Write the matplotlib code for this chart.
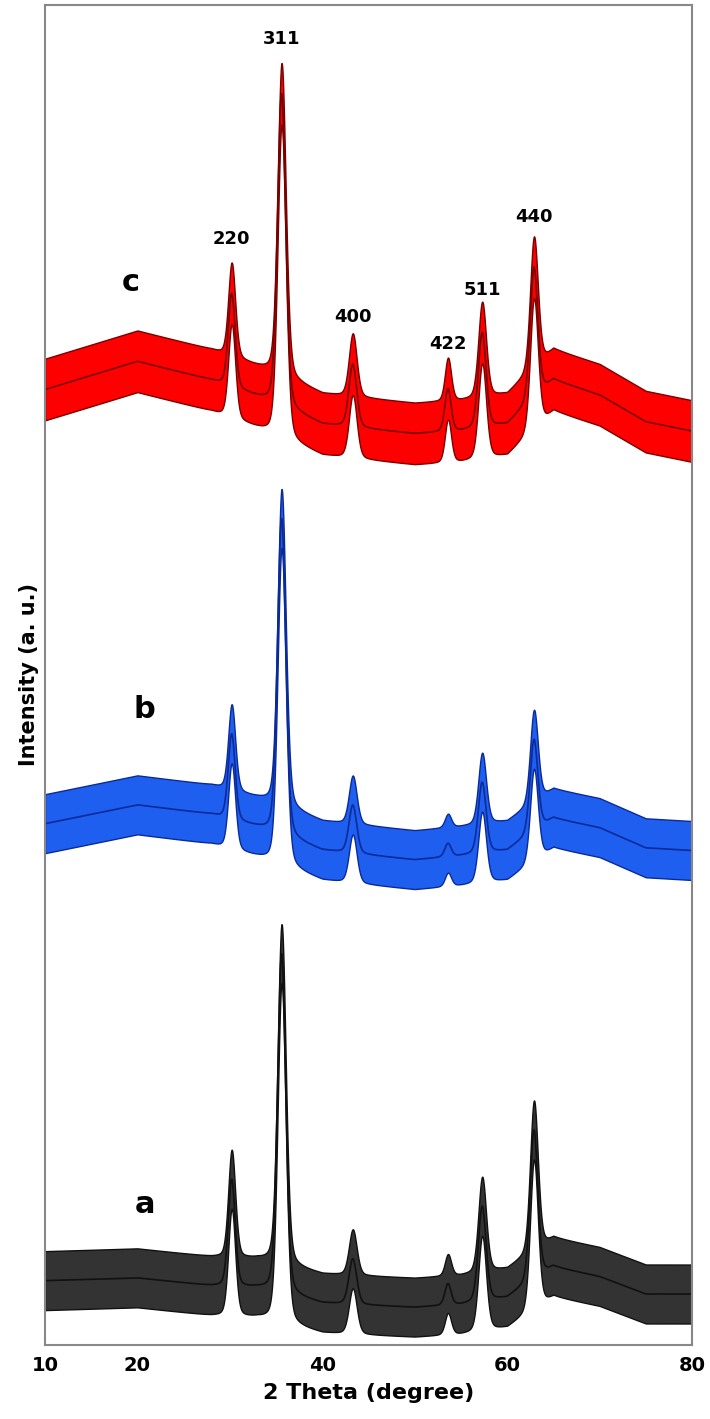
import numpy as np
import matplotlib
matplotlib.use("Agg")
import matplotlib.pyplot as plt

# Peak data (2theta, height above baseline band, FWHM)
peak_pos = [30.2, 35.6, 43.3, 53.6, 57.3, 62.9]
peak_hkl = ["220", "311", "400", "422", "511", "440"]
peak_width = [0.9, 1.05, 1.0, 0.8, 1.0, 1.0]
heights_a = [8.0, 25.4, 3.4, 1.6, 7.1, 11.2]
heights_b = [6.4, 23.7, 3.6, 1.0, 5.3, 6.9]
heights_c = [7.0, 23.4, 4.7, 3.2, 7.1, 9.8]

# Baseline anchor points (2theta, level) per trace
base_x = [10, 20, 28, 33, 40, 50, 55, 60, 65, 70, 75, 80]
base_a = [4.8, 5.0, 4.4, 4.2, 3.1, 2.8, 3.0, 3.5, 5.8, 5.1, 3.8, 3.8]
base_b = [38.9, 40.3, 39.6, 38.6, 36.9, 36.2, 36.5, 36.9, 39.3, 38.6, 37.1, 36.9]
base_c = [71.3, 73.4, 72.0, 70.7, 68.7, 68.0, 68.2, 68.7, 72.0, 70.9, 68.9, 68.2]
noise = [2.2, 2.2, 2.3]

labels = ["a", "b", "c"]
label_x = [20.8, 20.8, 19.3]
label_y = [10.5, 47.4, 79.3]
hkl_label_y = [82.5, 97.5, 76.7, 74.7, 78.7, 84.2]
colors = ["#333333", "#1f5ff0", "#ff0000"]
edge_colors = ["#111111", "#0a2a9a", "#7a0000"]

x = np.linspace(10, 80, 3000)

def profile(heights, base):
    y = np.interp(x, base_x, base)
    for p, h, w in zip(peak_pos, heights, peak_width):
        g = np.exp(-4 * np.log(2) * ((x - p) / w) ** 2)
        lo = 1 / (1 + (2 * (x - p) / w) ** 2)
        y = y + h * (0.75 * g + 0.25 * lo)
    return y

fig = plt.figure(figsize=(7.10, 14.19), dpi=100)
ax = fig.add_axes([45/710, 74/1419, 647/710, 1340/1419])
for heights, base, nz, c, ec in zip([heights_a, heights_b, heights_c],
                                    [base_a, base_b, base_c],
                                    noise, colors, edge_colors):
    y = profile(heights, base)
    ax.fill_between(x, y - nz, y + nz, color=c, lw=1.0, edgecolor=ec)
    ax.plot(x, y, color=ec, lw=1.2)

for l, lx, ly in zip(labels, label_x, label_y):
    ax.text(lx, ly, l, fontsize=22, fontweight="bold", ha="center", va="center")

for p, hkl, ly in zip(peak_pos, peak_hkl, hkl_label_y):
    ax.text(p, ly, hkl, fontsize=13, fontweight="bold", ha="center", va="center")

ax.set_xlim(10, 80)
ax.set_ylim(0, 100)
ax.set_xticks([10, 20, 40, 60, 80])
ax.tick_params(axis="x", length=0, labelsize=14, pad=8)
for t in ax.get_xticklabels():
    t.set_fontweight("bold")
ax.set_yticks([])
for s in ax.spines.values():
    s.set_color("#888888")
    s.set_linewidth(1.5)
ax.set_xlabel("2 Theta (degree)", fontsize=16, fontweight="bold", labelpad=6)
ax.set_ylabel("Intensity (a. u.)", fontsize=15, fontweight="bold", labelpad=4)
fig.savefig("out.png", dpi=100)
